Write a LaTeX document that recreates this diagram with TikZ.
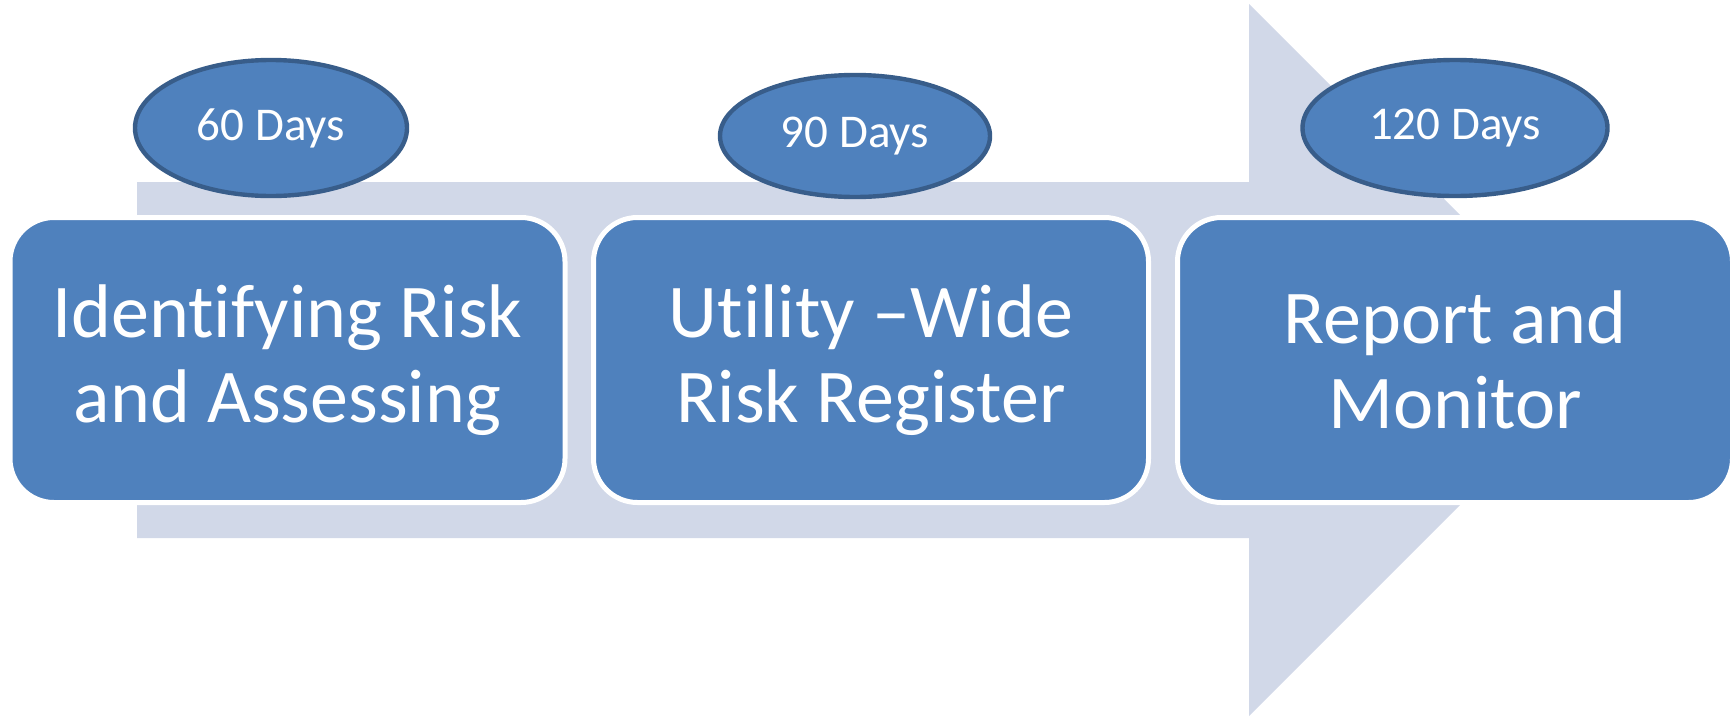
\documentclass[tikz,border=0pt]{standalone}
\usepackage{fontspec}
\setmainfont{Carlito}[Ligatures={TeX,NoCommon}]
\usetikzlibrary{shapes.geometric}
\definecolor{boxblue}{HTML}{4F81BD}
\definecolor{ovaledge}{HTML}{385D8A}
\definecolor{arrowgray}{HTML}{D1D8E8}

\begin{document}
\begin{tikzpicture}[x=0.5pt, y=-0.5pt,
        stagebox/.style={rectangle, rounded corners=22pt, fill=boxblue, draw=white, line width=2.5pt,
            minimum width=277.5pt, minimum height=142.5pt, inner sep=0pt,
            text=white, align=center, font=\fontsize{38}{42.5}\selectfont},
        daysoval/.style={ellipse, fill=boxblue, draw=ovaledge, line width=2.2pt, inner sep=0pt,
            text=white, font=\fontsize{23.5}{28}\selectfont}]
        \def\shaftTop{182}
        \def\shaftBot{538}
        \def\headX{1249}
        \def\tipX{1605}

        \useasboundingbox (0,0) rectangle (1735,718);
        \fill[arrowgray] (137,\shaftTop) -- (\headX,\shaftTop) -- (\headX,4) -- (\tipX,360)
            -- (\headX,716) -- (\headX,\shaftBot) -- (137,\shaftBot) -- cycle;

        \node[stagebox] (identify) at (287.5,360) {Identifying Risk\\and Assessing};
        \node[stagebox] (register) at (871,360) {Utility –Wide\\Risk Register};
        \node[stagebox] (report) at (1455,360) {Report and\\Monitor};

        \node[daysoval, minimum width=136pt, minimum height=68pt] (days60) at (271,128) {60 Days};
        \node[daysoval, minimum width=135pt, minimum height=61pt] (days90) at (855,136) {90 Days};
        \node[daysoval, minimum width=152.5pt, minimum height=68pt] (days120) at (1455,128) {120 Days};
    \end{tikzpicture}
\end{document}
